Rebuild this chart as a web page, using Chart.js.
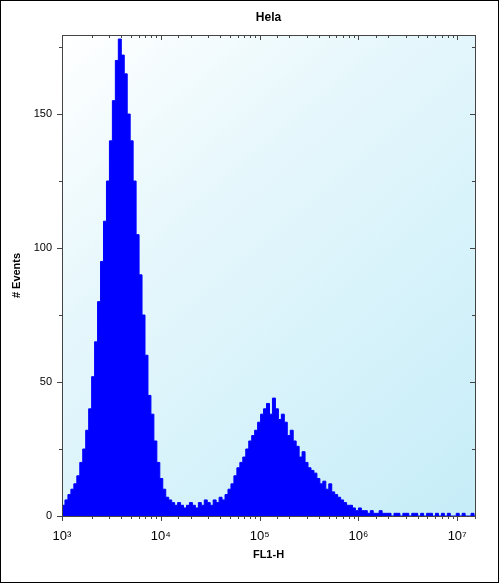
<!DOCTYPE html>
<html><head><meta charset="utf-8">
<script src="https://cdn.jsdelivr.net/npm/chart.js@4"></script>
<style>html,body{margin:0;padding:0;background:#fff}#w{width:499px;height:583px;position:relative;box-sizing:border-box;border:1px solid #000}</style>
</head><body><div id="w"><canvas id="c"></canvas></div>
<script>
const chartTitle = "Hela";
const xTitle = "FL1-H";
const yTitle = "# Events";
const binStartLog = 3.0;
const binWidthLog = 0.03;
const counts = [
 4,6,8,10,12,15,20,25,32,40,52,
 65,80,95,110,125,140,155,170,178,
 172,165,150,140,125,105,90,75,60,45,38,
 28,20,14,10,7,6,5,4,5,4,
 3,4,5,4,3,5,4,6,5,4,6,5,7,6,
 8,10,12,15,18,20,22,25,28,30,32,35,
 38,40,42,38,44,40,36,38,35,30,
 32,28,26,22,24,20,18,17,16,14,12,
 13,10,12,9,8,7,6,5,4,4,3,2,
 3,2,2,1,2,1,1,2,1,1, 1,0,1,1,0,1,1,0,1,1, 0,1,0,1,1,0,1,0,1,0, 1,0,0,1,0,1,0,0,1,0
];
const yTicks = [0,50,100,150];
const xDecades = [3,4,5,6,7];
const sup = {3:'³',4:'⁴',5:'⁵',6:'⁶',7:'⁷'};

const pts = counts.map((v,i)=>({x:Math.pow(10,binStartLog+i*binWidthLog), y:v}));
pts.push({x:Math.pow(10,binStartLog+counts.length*binWidthLog), y:counts[counts.length-1]});

const bg = {id:'bg', beforeDraw(ch){const a=ch.chartArea,c=ch.ctx;const g=c.createLinearGradient(a.left,a.top,a.right,a.bottom);g.addColorStop(0,'#ffffff');g.addColorStop(0.35,'#e6f7fc');g.addColorStop(1,'#c6edf8');c.save();c.fillStyle=g;c.fillRect(a.left,a.top,a.right-a.left,a.bottom-a.top);c.restore();},
 afterDraw(ch){const a=ch.chartArea,c=ch.ctx;c.save();c.strokeStyle='#444';c.lineWidth=1;
  c.strokeRect(a.left+0.5,a.top+0.5,a.right-a.left,a.bottom-a.top);
  const xs=ch.scales.x; xs.ticks.forEach(t=>{const p=Math.round(xs.getPixelForValue(t.value))+0.5;const maj=Math.abs(Math.log10(t.value)%1)<1e-6;const L=maj?5:3;c.beginPath();c.moveTo(p,a.bottom);c.lineTo(p,a.bottom+L);c.moveTo(p,a.top);c.lineTo(p,a.top+L);c.stroke();});
  const ys=ch.scales.y; [0,25,50,75,100,125,150,175].forEach(v=>{const p=Math.round(ys.getPixelForValue(v))+0.5;const L=v%50==0?5:3;c.beginPath();c.moveTo(a.left-L,p);c.lineTo(a.left,p);c.moveTo(a.right,p);c.lineTo(a.right-L,p);c.stroke();});
  c.fillStyle='#000';c.font='bold 12px "Liberation Sans"';c.textAlign='center';c.textBaseline='middle';c.fillText(chartTitle,(a.left+a.right)/2,17);
  c.restore();}};

new Chart(document.getElementById('c'),{
 type:'line',
 data:{datasets:[{data:pts,stepped:true,fill:'origin',backgroundColor:'#0000ff',borderColor:'#0000ff',borderWidth:1,pointRadius:0}]},
 options:{responsive:true,maintainAspectRatio:false,animation:false,
  layout:{padding:{top:34,right:23,left:5,bottom:16}},
  plugins:{legend:{display:false},tooltip:{enabled:false}},
  scales:{
   x:{type:'logarithmic',min:1000,max:Math.pow(10,7.18),
    afterFit(s){s.height=50;},
    grid:{display:false,drawTicks:false},border:{display:false},
    ticks:{autoSkip:false,maxRotation:0,padding:13,color:'#000',font:{family:'Liberation Sans',size:13},
     callback(v){const l=Math.log10(v);const r=Math.round(l);return (Math.abs(l-r)<1e-6&&xDecades.includes(r))?'10'+sup[r]:'';}},
    title:{display:true,text:xTitle,color:'#000',font:{family:'Liberation Sans',size:11,weight:'bold'},padding:{top:0}}},
   y:{min:0,max:179.5,
    afterFit(s){s.width=56;},
    afterBuildTicks(s){s.ticks=yTicks.map(v=>({value:v}));},
    grid:{display:false,drawTicks:false},border:{display:false},
    ticks:{padding:10,color:'#000',font:{family:'Liberation Sans',size:11}},
    title:{display:true,text:yTitle,color:'#000',font:{family:'Liberation Sans',size:11,weight:'bold'},padding:{bottom:8}}}
  }},
 plugins:[bg]
});
</script></body></html>
